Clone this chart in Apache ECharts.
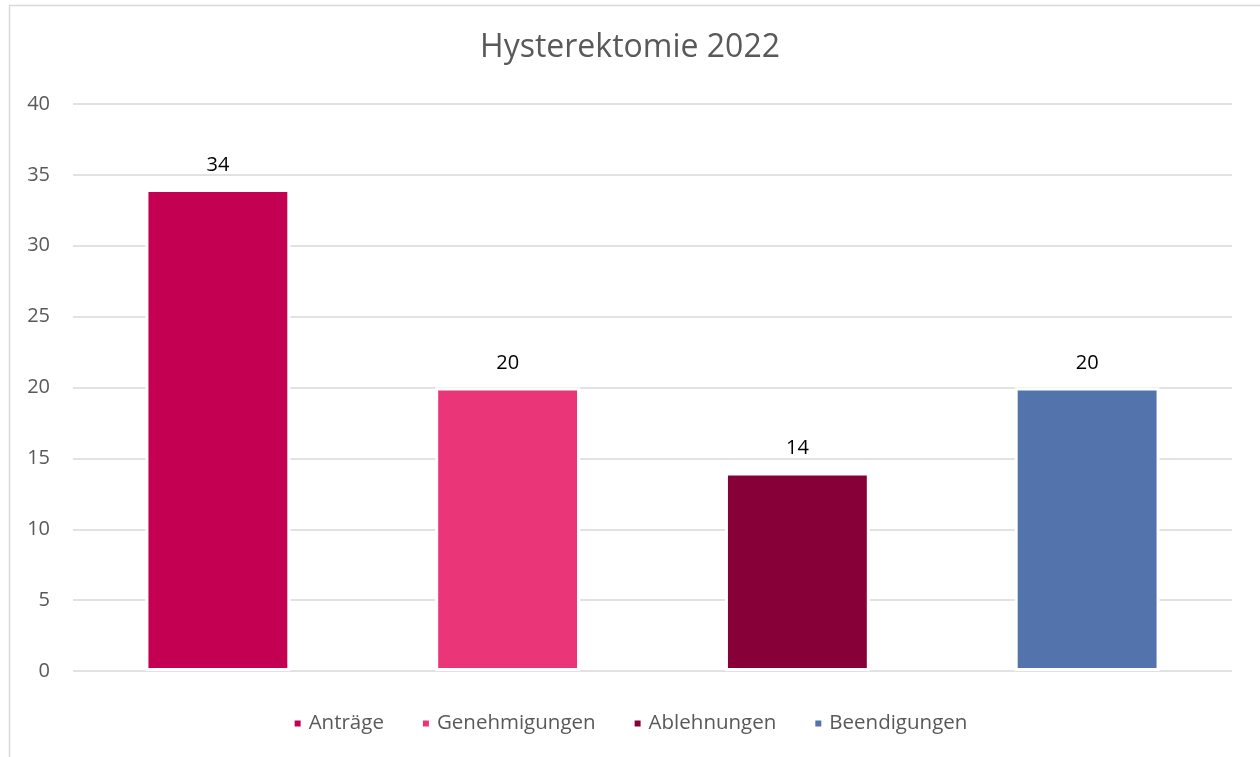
<!DOCTYPE html>
<html>
<head>
<meta charset="utf-8">
<script src="https://cdn.jsdelivr.net/npm/echarts@6/dist/echarts.min.js"></script>
<style>
  html, body { margin: 0; padding: 0; background: #fff; }
  #chart { width: 1260px; height: 757px; }
</style>
</head>
<body>
<div id="chart"></div>
<script>
  var title = 'Hysterektomie 2022';
  var categories = ['Anträge', 'Genehmigungen', 'Ablehnungen', 'Beendigungen'];
  var values = [34, 20, 14, 20];
  var colors = ['#C30052', '#EA3578', '#880038', '#5373AC'];
  var yTicks = { min: 0, max: 40, interval: 5 };

  var chart = echarts.init(document.getElementById('chart'));

  // one series per category so that each bar gets its own legend entry
  var series = categories.map(function (name, i) {
    var data = categories.map(function (c, j) { return j === i ? values[i] : null; });
    return {
      name: name,
      type: 'bar',
      stack: 'all',
      barWidth: '50%',
      data: data,
      itemStyle: { color: colors[i], borderColor: '#fff', borderWidth: 3 },
      label: {
        show: true,
        position: 'top',
        distance: 14,
        color: '#000',
        fontSize: 20,
        fontFamily: 'Open Sans'
      }
    };
  });

  chart.setOption({
    animation: false,
    backgroundColor: '#fff',
    color: colors,
    title: {
      text: title,
      left: 'center',
      top: 27,
      textStyle: { color: '#595959', fontSize: 32, fontWeight: 'normal', fontFamily: 'Open Sans' }
    },
    legend: {
      bottom: 18,
      left: 'center',
      icon: 'rect',
      itemWidth: 8,
      itemHeight: 8,
      itemGap: 37,
      textStyle: { color: '#595959', fontSize: 20.5, fontFamily: 'Open Sans', padding: [0, 0, 0, 2] },
      data: categories
    },
    grid: { left: 73, right: 28, top: 104, bottom: 86 },
    xAxis: {
      type: 'category',
      data: categories,
      axisLine: { show: false },
      axisTick: { show: false },
      axisLabel: { show: false }
    },
    yAxis: {
      type: 'value',
      min: yTicks.min,
      max: yTicks.max,
      interval: yTicks.interval,
      axisLine: { show: false },
      axisTick: { show: false },
      axisLabel: { color: '#595959', fontSize: 20, margin: 23, fontFamily: 'Open Sans' },
      splitLine: { lineStyle: { color: '#d9d9d9', width: 1.5 } }
    },
    graphic: [{
      type: 'rect',
      z: -1,
      shape: { x: 9.5, y: 5.5, width: 1300, height: 800 },
      style: { fill: 'none', stroke: '#d9d9d9', lineWidth: 1.5 }
    }],
    series: series
  });
</script>
</body>
</html>
